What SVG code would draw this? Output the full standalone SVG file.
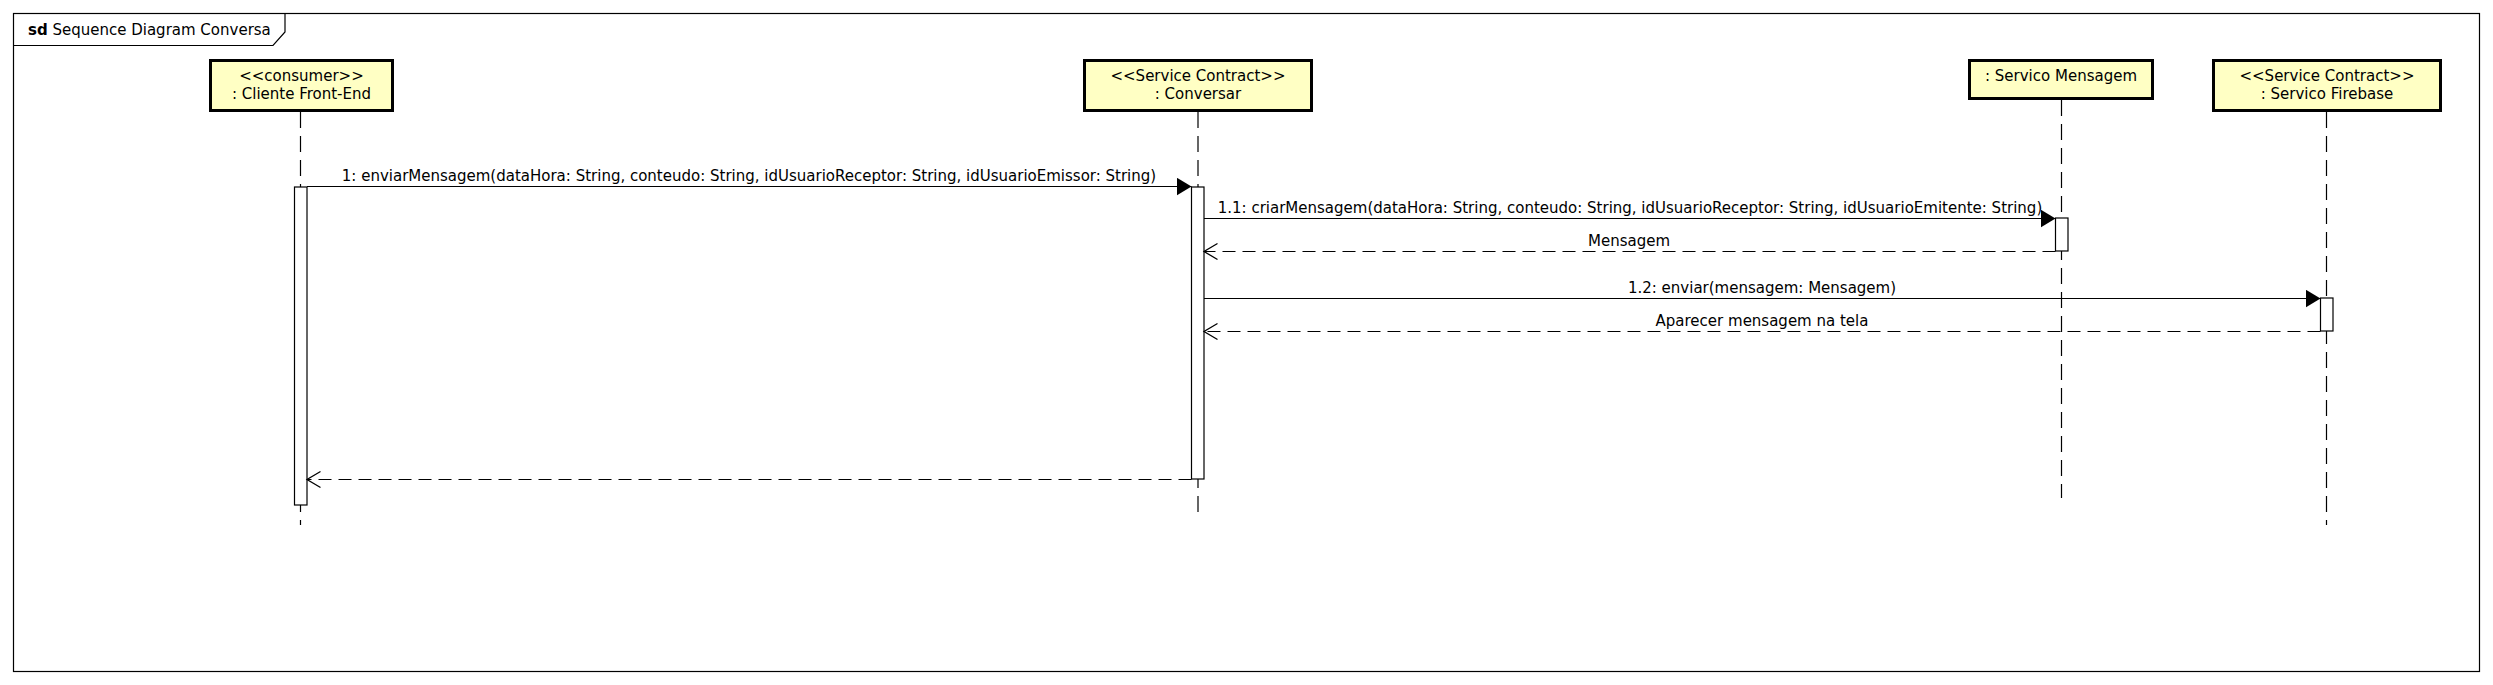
<svg xmlns="http://www.w3.org/2000/svg" width="2493" height="685" viewBox="0 0 2493 685">
<style>
  text { font-family: "DejaVu Sans", "Liberation Sans", sans-serif; font-size: 15px; fill: #000; }
  .lbl { text-anchor: middle; }
  .head { fill: #ffffc4; stroke: #000; stroke-width: 3; }
  .life { stroke: #000; stroke-width: 1.2; stroke-dasharray: 16 8; fill: none; }
  .act { fill: #fff; stroke: #000; stroke-width: 1.2; }
  .call { stroke: #000; stroke-width: 1.2; fill: none; marker-end: url(#filled); }
  .ret { stroke: #000; stroke-width: 1.2; fill: none; stroke-dasharray: 13 7; marker-end: url(#open); }
</style>
<defs>
  <marker id="filled" markerWidth="16" markerHeight="20" refX="15" refY="9" orient="auto" markerUnits="userSpaceOnUse">
    <path d="M0,0 L15,9 L0,18 Z" fill="#000" stroke="none"/>
  </marker>
  <marker id="open" markerWidth="16" markerHeight="20" refX="14" refY="9" orient="auto" markerUnits="userSpaceOnUse">
    <path d="M0.5,1 L14,9 L0.5,17" fill="none" stroke="#000" stroke-width="1.3" stroke-dasharray="none"/>
  </marker>
</defs>
<rect width="2493" height="685" fill="#fff"/>
<g id="frame">
  <rect x="13.5" y="13.5" width="2466" height="658" fill="none" stroke="#000" stroke-width="1.2"/>
  <path d="M13.5,45.5 H273 L285,32 V13.5" fill="none" stroke="#000" stroke-width="1.2"/>
  <text x="28" y="35"><tspan font-weight="bold">sd</tspan> Sequence Diagram Conversa</text>
</g>
<g id="cliente">
  <line class="life" x1="300.5" y1="112" x2="300.5" y2="525"/>
  <rect class="head" x="210.5" y="60.5" width="182" height="50"/>
  <text class="lbl" x="301.5" y="81">&lt;&lt;consumer&gt;&gt;</text>
  <text class="lbl" x="301.5" y="99">: Cliente Front-End</text>
  <rect class="act" x="294.5" y="187" width="12.5" height="318"/>
</g>
<g id="conversar">
  <line class="life" x1="1198" y1="112" x2="1198" y2="512"/>
  <rect class="head" x="1084.5" y="60.5" width="227" height="50"/>
  <text class="lbl" x="1198" y="81">&lt;&lt;Service Contract&gt;&gt;</text>
  <text class="lbl" x="1198" y="99">: Conversar</text>
  <rect class="act" x="1191.5" y="187" width="12.5" height="292"/>
</g>
<g id="servico-mensagem">
  <line class="life" x1="2061.5" y1="100" x2="2061.5" y2="498"/>
  <rect class="head" x="1969.5" y="60.5" width="183" height="38"/>
  <text class="lbl" x="2061" y="81">: Servico Mensagem</text>
  <rect class="act" x="2055.5" y="218" width="12.5" height="33"/>
</g>
<g id="servico-firebase">
  <line class="life" x1="2326.5" y1="112" x2="2326.5" y2="525"/>
  <rect class="head" x="2213.5" y="60.5" width="227" height="50"/>
  <text class="lbl" x="2327" y="81">&lt;&lt;Service Contract&gt;&gt;</text>
  <text class="lbl" x="2327" y="99">: Servico Firebase</text>
  <rect class="act" x="2320.5" y="298" width="12.5" height="33"/>
</g>
<g id="connectors">
  <line class="call" x1="307" y1="186.5" x2="1191.5" y2="186.5"/>
  <text class="lbl" x="749" y="181">1: enviarMensagem(dataHora: String, conteudo: String, idUsuarioReceptor: String, idUsuarioEmissor: String)</text>
  <line class="call" x1="1204" y1="218.5" x2="2055.5" y2="218.5"/>
  <text class="lbl" x="1630" y="213">1.1: criarMensagem(dataHora: String, conteudo: String, idUsuarioReceptor: String, idUsuarioEmitente: String)</text>
  <line class="ret" x1="2055.5" y1="251.5" x2="1204" y2="251.5"/>
  <text class="lbl" x="1629" y="246">Mensagem</text>
  <line class="call" x1="1204" y1="298.5" x2="2320.5" y2="298.5"/>
  <text class="lbl" x="1762" y="293">1.2: enviar(mensagem: Mensagem)</text>
  <line class="ret" x1="2320.5" y1="331.5" x2="1204" y2="331.5"/>
  <text class="lbl" x="1762" y="326">Aparecer mensagem na tela</text>
  <line class="ret" x1="1191.5" y1="479.5" x2="307" y2="479.5"/>
</g>
</svg>
